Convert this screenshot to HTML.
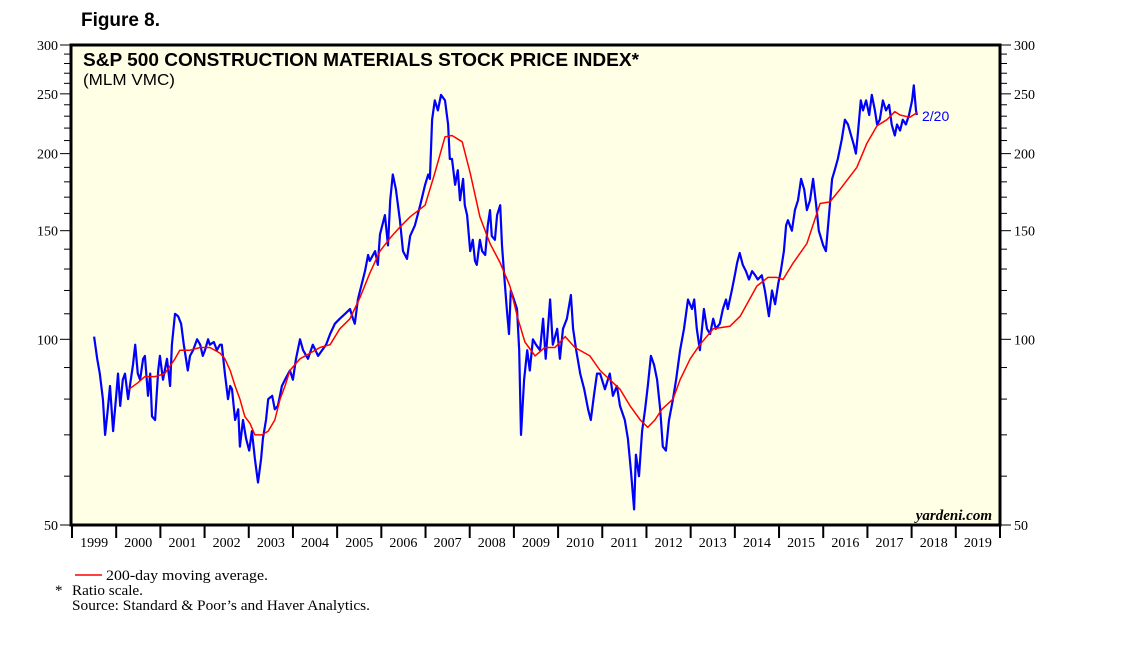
<!DOCTYPE html>
<html><head><meta charset="utf-8"><style>
body{margin:0;background:#fff;width:1138px;height:645px;overflow:hidden}
svg text{font-family:"Liberation Sans",sans-serif}
.serif{font-family:"Liberation Serif",serif}
</style></head><body>
<svg id="chart" width="1138" height="645">
<text x="81" y="26" font-size="19" font-weight="bold" textLength="79" lengthAdjust="spacingAndGlyphs">Figure 8.</text>
<rect x="71" y="45" width="929" height="480" fill="#ffffe6"/>
<g id="axes"></g>
<g id="series"></g>
<rect x="71" y="45" width="929" height="480" fill="none" stroke="#000" stroke-width="3"/>
<text x="83" y="66" font-size="18" font-weight="bold" textLength="556" lengthAdjust="spacingAndGlyphs">S&amp;P 500 CONSTRUCTION MATERIALS STOCK PRICE INDEX*</text>
<text x="83" y="85" font-size="16" textLength="92" lengthAdjust="spacingAndGlyphs">(MLM VMC)</text>
<text x="992" y="520" font-size="15" font-style="italic" font-weight="bold" text-anchor="end" class="serif">yardeni.com</text>
<text x="922" y="121" font-size="14" fill="#0000ff">2/20</text>
<line x1="75" y1="575" x2="102" y2="575" stroke="#ff0000" stroke-width="1.5"/>
<text x="106" y="580" font-size="15" class="serif" textLength="162" lengthAdjust="spacingAndGlyphs">200-day moving average.</text>
<text x="55" y="595" font-size="15" class="serif">*</text>
<text x="72" y="595" font-size="15" class="serif" textLength="71" lengthAdjust="spacingAndGlyphs">Ratio scale.</text>
<text x="72" y="610" font-size="15" class="serif" textLength="298" lengthAdjust="spacingAndGlyphs">Source: Standard &amp; Poor’s and Haver Analytics.</text>
</svg>
<script>
const priceYears=[1999.50,1999.57,1999.63,1999.70,1999.75,1999.81,1999.86,1999.93,2000.00,2000.04,2000.09,2000.15,2000.20,2000.27,2000.31,2000.38,2000.43,2000.49,2000.54,2000.61,2000.65,2000.72,2000.77,2000.81,2000.88,2000.95,2000.99,2001.06,2001.15,2001.22,2001.26,2001.33,2001.40,2001.47,2001.53,2001.58,2001.62,2001.67,2001.74,2001.83,2001.90,2001.96,2002.01,2002.08,2002.12,2002.21,2002.28,2002.35,2002.39,2002.46,2002.53,2002.58,2002.62,2002.69,2002.76,2002.80,2002.87,2002.94,2003.01,2003.07,2003.14,2003.21,2003.28,2003.32,2003.39,2003.44,2003.53,2003.59,2003.66,2003.75,2003.82,2003.93,2004.00,2004.07,2004.16,2004.23,2004.34,2004.45,2004.57,2004.66,2004.75,2004.84,2004.95,2005.06,2005.18,2005.29,2005.36,2005.40,2005.47,2005.52,2005.63,2005.70,2005.74,2005.86,2005.92,2005.97,2006.08,2006.15,2006.20,2006.26,2006.33,2006.42,2006.49,2006.58,2006.65,2006.76,2006.88,2006.99,2007.06,2007.10,2007.15,2007.21,2007.28,2007.35,2007.44,2007.51,2007.55,2007.60,2007.67,2007.73,2007.78,2007.85,2007.89,2007.94,2008.01,2008.07,2008.12,2008.16,2008.23,2008.28,2008.35,2008.41,2008.46,2008.50,2008.57,2008.62,2008.69,2008.73,2008.78,2008.84,2008.89,2008.93,2009.00,2009.07,2009.12,2009.16,2009.23,2009.30,2009.36,2009.43,2009.50,2009.59,2009.66,2009.72,2009.82,2009.88,2009.98,2010.04,2010.11,2010.20,2010.29,2010.34,2010.41,2010.50,2010.59,2010.68,2010.74,2010.81,2010.88,2010.95,2011.06,2011.17,2011.24,2011.33,2011.40,2011.51,2011.58,2011.65,2011.72,2011.76,2011.83,2011.90,2011.97,2012.03,2012.10,2012.17,2012.24,2012.31,2012.37,2012.44,2012.51,2012.60,2012.67,2012.76,2012.85,2012.94,2013.03,2013.08,2013.14,2013.21,2013.30,2013.37,2013.44,2013.51,2013.57,2013.66,2013.73,2013.80,2013.84,2013.93,2014.00,2014.05,2014.11,2014.18,2014.25,2014.32,2014.39,2014.46,2014.52,2014.61,2014.68,2014.77,2014.84,2014.91,2014.98,2015.04,2015.11,2015.16,2015.20,2015.29,2015.36,2015.43,2015.50,2015.57,2015.63,2015.70,2015.77,2015.84,2015.90,2016.00,2016.06,2016.13,2016.20,2016.26,2016.33,2016.42,2016.49,2016.56,2016.63,2016.69,2016.74,2016.78,2016.85,2016.90,2016.97,2017.04,2017.10,2017.17,2017.22,2017.28,2017.35,2017.42,2017.49,2017.55,2017.62,2017.67,2017.74,2017.80,2017.87,2017.94,2018.01,2018.05,2018.10,2018.12];
const priceValues=[101,93,88,80,70,77,84,71,81,88,78,86,88,80,84,91,98,88,86,93,94,81,88,75,74,89,94,86,93,84,98,110,109,106,98,93,89,94,96,100,98,94,96,100,98,99,96,98,98,88,80,84,83,74,77,67,74,69,66,71,64,58.6,64,69,74,80,81,77,78,84,86,89,86,93,100,96,93,98,94,96,98,102,106,108,110,112,108,106,116,120,129,137,134,139,132,148,159,142,168,185,175,156,139,135,147,153,165,178,185,182,227,244,235,249,244,223,196,196,178,188,168,182,165,159,139,145,134,132,145,139,137,153,162,147,145,159,165,142,127,112,102,120,116,112,96,70,86,96,89,100,98,96,108,93,116,98,104,93,104,108,118,104,96,88,83,77,74,81,88,88,83,88,81,84,78,74,69,61,53,65,60,71,77,84,94,91,86,77,67,66,74,80,86,96,104,116,112,116,104,96,112,104,102,108,104,106,112,116,112,120,127,133,138,132,129,125,129,127,125,127,120,109,120,114,123,129,139,153,156,150,162,168,182,175,162,168,182,165,150,142,139,159,182,188,196,211,227,223,214,207,200,214,244,235,244,231,249,235,223,227,244,235,240,223,214,223,218,227,223,231,244,258,235,231];
const maYears=[2000.29,2000.49,2000.65,2000.88,2001.10,2001.33,2001.44,2001.67,2001.90,2002.12,2002.35,2002.46,2002.58,2002.69,2002.80,2002.91,2003.03,2003.14,2003.30,2003.44,2003.59,2003.71,2003.82,2003.93,2004.16,2004.39,2004.61,2004.84,2005.06,2005.29,2005.52,2005.74,2005.97,2006.20,2006.42,2006.65,2006.99,2007.21,2007.44,2007.60,2007.83,2008.01,2008.23,2008.46,2008.69,2008.91,2009.09,2009.25,2009.48,2009.70,2009.93,2010.16,2010.38,2010.72,2010.95,2011.17,2011.40,2011.63,2011.86,2012.03,2012.19,2012.35,2012.60,2012.76,2012.99,2013.21,2013.51,2013.89,2014.12,2014.50,2014.75,2014.95,2015.09,2015.32,2015.63,2015.93,2016.15,2016.38,2016.76,2016.99,2017.22,2017.44,2017.62,2017.74,2017.96,2018.12];
const maValues=[83,85,87,87,88,93,96,96,97,97,95,93,89,84,80,75,73,70,70,71,74,80,84,89,93,95,97,98,104,108,117,128,139,146,152,158,165,186,213,214,209,186,158,143,133,122,108,99,94,97,97,101,97,94,89,86,83,78,74,72,74,77,80,86,93,98,104,105,109,122,126,126,125,133,143,166,167,175,190,208,222,227,234,231,229,233];
const yTickValues=[50,100,150,200,250,300];
const xTickLabels=["1999","2000","2001","2002","2003","2004","2005","2006","2007","2008","2009","2010","2011","2012","2013","2014","2015","2016","2017","2018","2019"];

const NS="http://www.w3.org/2000/svg";
const X0=72,PXY=44.19,YT=45,YB=525,VMAX=300,VMIN=50;
function xs(yr){return X0+(yr-1999)*PXY;}
function ys(v){return YT+(Math.log(VMAX/v)/Math.log(VMAX/VMIN))*(YB-YT);}
function mk(tag,attrs,parent){const e=document.createElementNS(NS,tag);for(const k in attrs)e.setAttribute(k,attrs[k]);parent.appendChild(e);return e;}
const axes=document.getElementById('axes'),series=document.getElementById('series');

for(let v=50;v<=300;v+=10){
  const y=ys(v);const major=yTickValues.includes(v);
  const l1=mk('line',{x1:major?60:64,y1:y,x2:71,y2:y,stroke:'#000','stroke-width':1},axes);
  
  
  const l2=mk('line',{x1:1000,y1:y,x2:major?1011:1007,y2:y,stroke:'#000','stroke-width':1},axes);
  
  
}
yTickValues.forEach(v=>{
  const y=ys(v)+5;
  const t1=mk('text',{x:58,y:y,'font-size':14,'text-anchor':'end',class:'serif'},axes);t1.textContent=v;
  
  
  const t2=mk('text',{x:1014,y:y,'font-size':14,class:'serif'},axes);t2.textContent=v;
  
  
});
xTickLabels.forEach((lab,i)=>{
  const yr=1999+i;
  const tk=mk('line',{x1:xs(yr),y1:525,x2:xs(yr),y2:538,stroke:'#000','stroke-width':2},axes);
  
  
  const t=mk('text',{x:xs(yr+0.5),y:547,'font-size':14,'text-anchor':'middle',class:'serif'},axes);t.textContent=lab;
  
  
});
const endTick=mk('line',{x1:xs(2020),y1:525,x2:xs(2020),y2:538,stroke:'#000','stroke-width':2},axes);



const pd=priceYears.map((yr,i)=>(i?'L':'M')+xs(yr).toFixed(1)+','+ys(priceValues[i]).toFixed(1)).join('');
const pl=mk('path',{d:pd,fill:'none',stroke:'#0000ff','stroke-width':2.2,'stroke-linejoin':'round'},series);


const md=maYears.map((yr,i)=>(i?'L':'M')+xs(yr).toFixed(1)+','+ys(maValues[i]).toFixed(1)).join('');
const ml=mk('path',{d:md,fill:'none',stroke:'#ff0000','stroke-width':1.5,'stroke-linejoin':'round'},series);


</script>
</body></html>
